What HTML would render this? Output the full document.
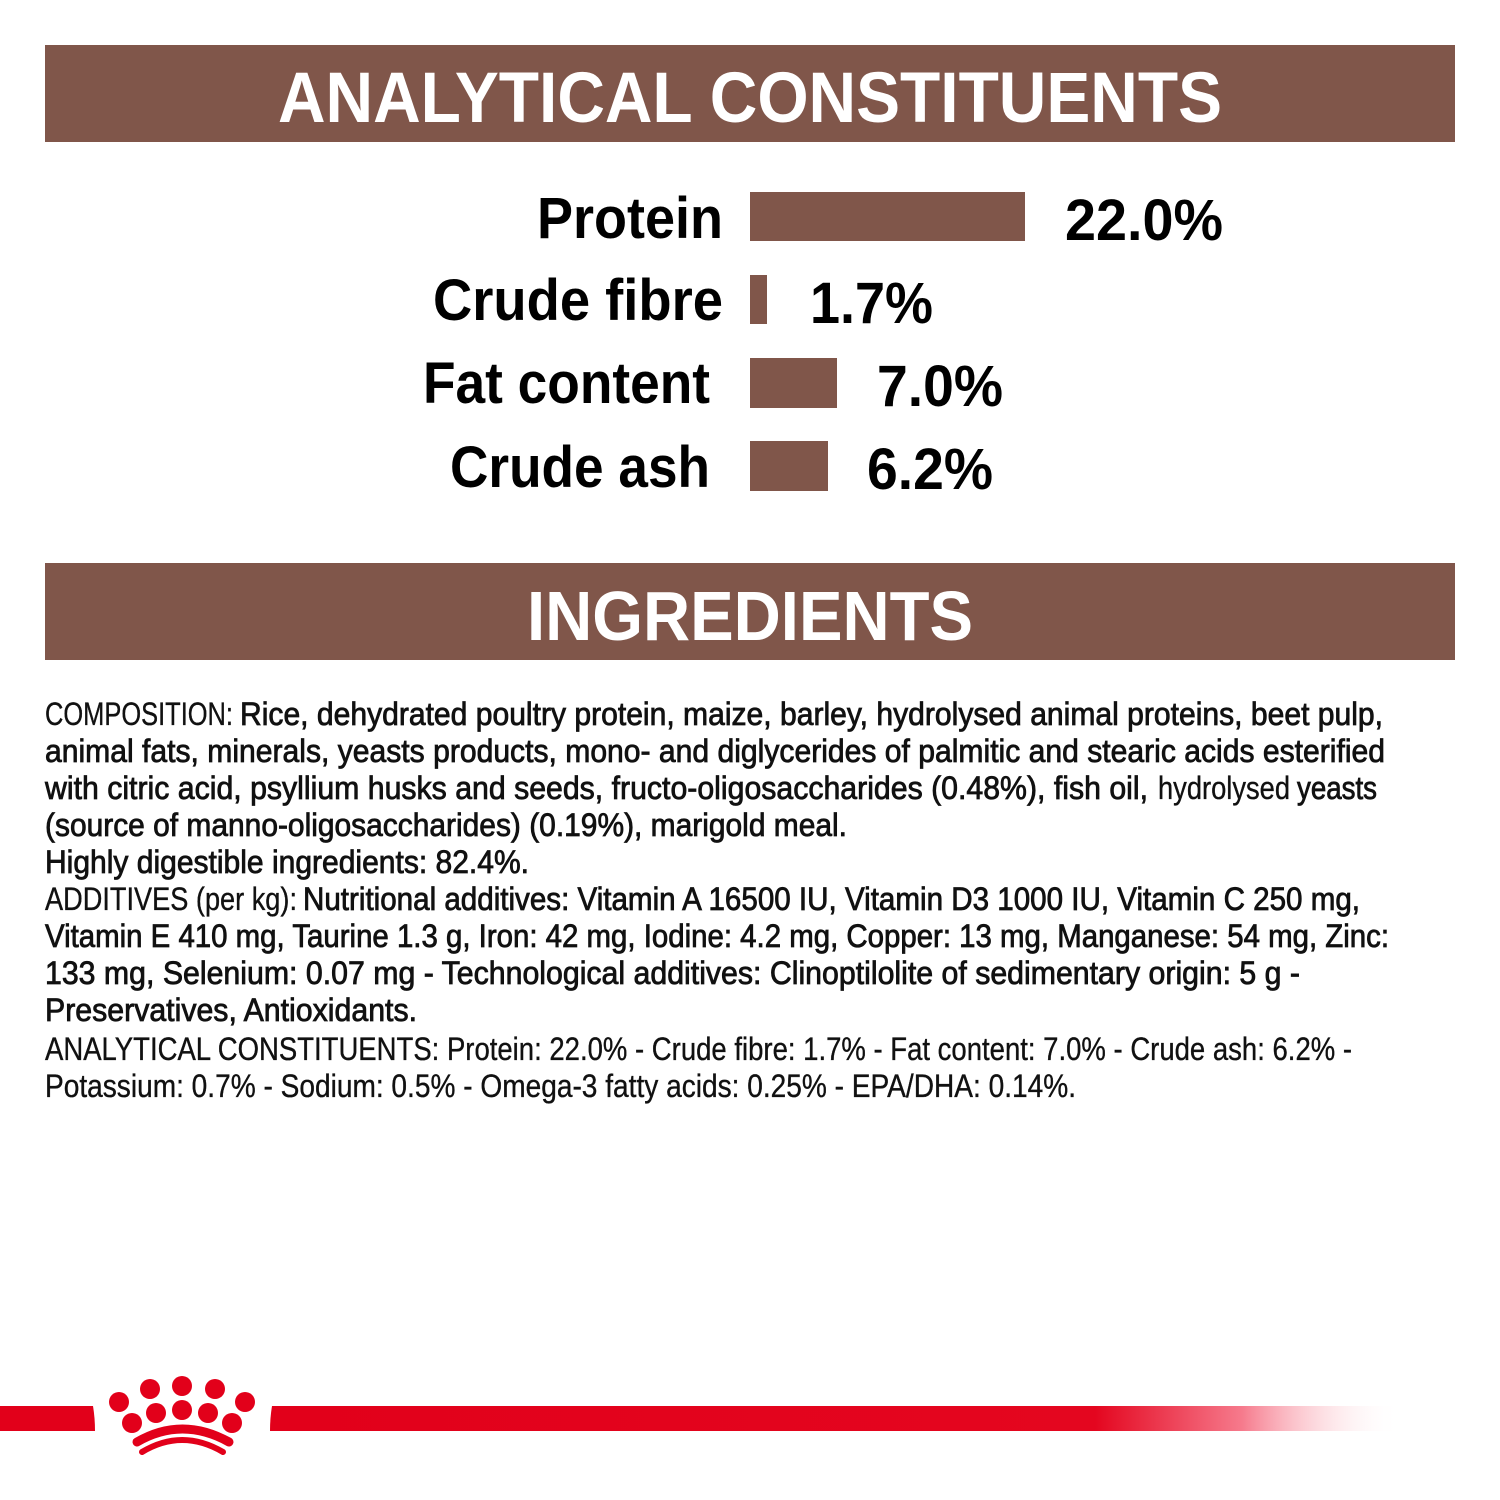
<!DOCTYPE html>
<html>
<head>
<meta charset="utf-8">
<style>
html,body{margin:0;padding:0;background:#fff;}
svg{display:block;}
</style>
</head>
<body>
<svg width="1500" height="1500" viewBox="0 0 1500 1500" xmlns="http://www.w3.org/2000/svg">
<defs>
<linearGradient id="fade" x1="270" y1="0" x2="1400" y2="0" gradientUnits="userSpaceOnUse">
<stop offset="0" stop-color="#E2001A"/>
<stop offset="0.73" stop-color="#E4061F"/>
<stop offset="0.86" stop-color="#F67A8C"/>
<stop offset="1" stop-color="#FFFFFF" stop-opacity="0"/>
</linearGradient>
</defs>
<rect x="0" y="0" width="1500" height="1500" fill="#fff"/>

<!-- Header 1 -->
<rect x="45" y="45" width="1410" height="97" fill="#80564A"/>
<text x="278" y="122" font-family="Liberation Sans, sans-serif" font-weight="bold" font-size="71" fill="#fff" textLength="944" lengthAdjust="spacingAndGlyphs">ANALYTICAL CONSTITUENTS</text>

<!-- Chart -->
<g font-family="Liberation Sans, sans-serif" font-weight="bold" fill="#000">
<text x="537" y="238" font-size="58" textLength="186" lengthAdjust="spacingAndGlyphs">Protein</text>
<text x="433" y="320" font-size="58" textLength="290" lengthAdjust="spacingAndGlyphs">Crude fibre</text>
<text x="423" y="403" font-size="58" textLength="287" lengthAdjust="spacingAndGlyphs">Fat content</text>
<text x="450" y="487" font-size="58" textLength="260" lengthAdjust="spacingAndGlyphs">Crude ash</text>

<text x="1065" y="240" font-size="58" textLength="158" lengthAdjust="spacingAndGlyphs">22.0%</text>
<text x="810" y="323" font-size="58" textLength="123" lengthAdjust="spacingAndGlyphs">1.7%</text>
<text x="877" y="406" font-size="58" textLength="126" lengthAdjust="spacingAndGlyphs">7.0%</text>
<text x="867" y="489" font-size="58" textLength="126" lengthAdjust="spacingAndGlyphs">6.2%</text>
</g>
<rect x="750" y="192" width="275" height="49" fill="#80564A"/>
<rect x="750" y="275" width="17" height="49" fill="#80564A"/>
<rect x="750" y="358" width="87" height="50" fill="#80564A"/>
<rect x="750" y="441" width="78" height="50" fill="#80564A"/>

<!-- Header 2 -->
<rect x="45" y="563" width="1410" height="97" fill="#80564A"/>
<text x="527" y="640" font-family="Liberation Sans, sans-serif" font-weight="bold" font-size="70" fill="#fff" textLength="446" lengthAdjust="spacingAndGlyphs">INGREDIENTS</text>

<!-- Paragraph -->
<g font-family="Liberation Sans, sans-serif" font-size="32" fill="#111">
<g stroke="#111" stroke-width="0.8">
<text x="240" y="725" textLength="1143" lengthAdjust="spacingAndGlyphs">Rice, dehydrated poultry protein, maize, barley, hydrolysed animal proteins, beet pulp,</text>
<text x="45" y="762" textLength="1340" lengthAdjust="spacingAndGlyphs">animal fats, minerals, yeasts products, mono- and diglycerides of palmitic and stearic acids esterified</text>
<text x="45" y="799" textLength="1103" lengthAdjust="spacingAndGlyphs">with citric acid, psyllium husks and seeds, fructo-oligosaccharides (0.48%), fish oil,</text>
<text x="1297" y="799" textLength="80" lengthAdjust="spacingAndGlyphs">yeasts</text>
<text x="45" y="836" textLength="802" lengthAdjust="spacingAndGlyphs">(source of manno-oligosaccharides) (0.19%), marigold meal.</text>
<text x="45" y="873" textLength="484" lengthAdjust="spacingAndGlyphs">Highly digestible ingredients: 82.4%.</text>
<text x="303" y="910" textLength="1057" lengthAdjust="spacingAndGlyphs">Nutritional additives: Vitamin A 16500 IU, Vitamin D3 1000 IU, Vitamin C 250 mg,</text>
<text x="45" y="947" textLength="1344" lengthAdjust="spacingAndGlyphs">Vitamin E 410 mg, Taurine 1.3 g, Iron: 42 mg, Iodine: 4.2 mg, Copper: 13 mg, Manganese: 54 mg, Zinc:</text>
<text x="45" y="984" textLength="1255" lengthAdjust="spacingAndGlyphs">133 mg, Selenium: 0.07 mg - Technological additives: Clinoptilolite of sedimentary origin: 5 g -</text>
<text x="45" y="1021" textLength="372" lengthAdjust="spacingAndGlyphs">Preservatives, Antioxidants.</text>
</g>
<g stroke="#111" stroke-width="0.35">
<text x="45" y="725" textLength="188" lengthAdjust="spacingAndGlyphs">COMPOSITION:</text>
<text x="1158" y="799" textLength="132" lengthAdjust="spacingAndGlyphs">hydrolysed</text>
<text x="45" y="910" textLength="252" lengthAdjust="spacingAndGlyphs">ADDITIVES (per kg):</text>
<text x="45" y="1060" textLength="1307" lengthAdjust="spacingAndGlyphs">ANALYTICAL CONSTITUENTS: Protein: 22.0% - Crude fibre: 1.7% - Fat content: 7.0% - Crude ash: 6.2% -</text>
<text x="45" y="1097" textLength="1031" lengthAdjust="spacingAndGlyphs">Potassium: 0.7% - Sodium: 0.5% - Omega-3 fatty acids: 0.25% - EPA/DHA: 0.14%.</text>
</g>
</g>

<!-- Footer red line & crown -->
<path d="M0,1406 L93,1406 Q95,1418 95,1431 L0,1431 Z" fill="#E2001A"/>
<path d="M272,1406 L1400,1406 L1400,1431 L270,1431 Q270,1418 272,1406 Z" fill="url(#fade)"/>
<g fill="#E2001A">
<circle cx="119" cy="1402" r="10"/>
<circle cx="150" cy="1389" r="10"/>
<circle cx="182" cy="1386" r="10"/>
<circle cx="215" cy="1389" r="10"/>
<circle cx="245" cy="1402" r="10"/>
<circle cx="132" cy="1423" r="10"/>
<circle cx="156" cy="1413" r="10"/>
<circle cx="182" cy="1410" r="10"/>
<circle cx="208" cy="1413" r="10"/>
<circle cx="232" cy="1423" r="10"/>
</g>
<path d="M137,1442 Q182,1416 229,1442" fill="none" stroke="#E2001A" stroke-width="9" stroke-linecap="round"/>
<path d="M142,1452 Q182,1428 223,1452" fill="none" stroke="#E2001A" stroke-width="6" stroke-linecap="round"/>
</svg>
</body>
</html>
